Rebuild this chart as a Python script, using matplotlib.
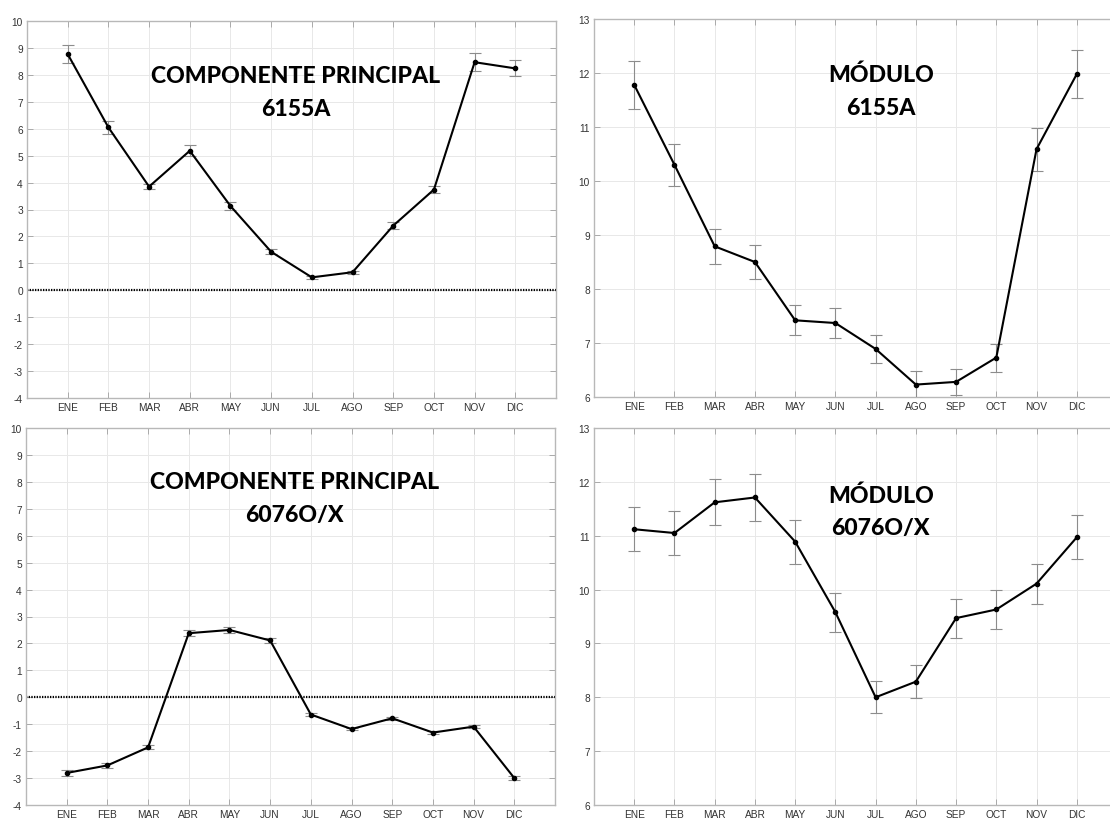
import numpy as np
import matplotlib
matplotlib.use("Agg")
import matplotlib.pyplot as plt

plt.rcParams["axes.unicode_minus"] = False

months = ["ENE", "FEB", "MAR", "ABR", "MAY", "JUN", "JUL", "AGO", "SEP", "OCT", "NOV", "DIC"]

# Componente principal, estación 6155A
cp_6155a = [8.77, 6.05, 3.85, 5.18, 3.13, 1.43, 0.48, 0.67, 2.40, 3.74, 8.47, 8.24]
cp_6155a_err = [0.33, 0.24, 0.10, 0.20, 0.15, 0.10, 0.05, 0.05, 0.12, 0.12, 0.33, 0.30]

# Módulo, estación 6155A
mod_6155a = [11.78, 10.30, 8.79, 8.50, 7.42, 7.37, 6.89, 6.23, 6.28, 6.73, 10.59, 11.98]
mod_6155a_err = [0.44, 0.39, 0.33, 0.32, 0.28, 0.28, 0.26, 0.25, 0.24, 0.26, 0.40, 0.45]

# Componente principal, estación 6076O/X
cp_6076 = [-2.81, -2.53, -1.86, 2.38, 2.50, 2.11, -0.64, -1.18, -0.78, -1.31, -1.09, -3.00]
cp_6076_err = [0.12, 0.10, 0.07, 0.12, 0.10, 0.08, 0.05, 0.05, 0.05, 0.05, 0.05, 0.06]

# Módulo, estación 6076O/X
mod_6076 = [11.12, 11.05, 11.62, 11.71, 10.89, 9.58, 8.00, 8.29, 9.47, 9.63, 10.11, 10.97]
mod_6076_err = [0.41, 0.41, 0.43, 0.43, 0.41, 0.36, 0.30, 0.31, 0.36, 0.36, 0.37, 0.41]

TICK_FONT = "Liberation Sans"
LABEL_FONT = "Lato"

W, H = 1110, 820
fig = plt.figure(figsize=(W / 100, H / 100), dpi=100)


def px_axes(x0, y0, x1, y1):
    return fig.add_axes([x0 / W, 1 - y1 / H, (x1 - x0) / W, (y1 - y0) / H])


def panel(ax, values, errors, ylim, title_lines, title_xy, zero_line):
    x = np.arange(1, len(months) + 1)
    ax.set_xlim(0, 13)
    ax.set_ylim(*ylim)
    ax.set_xticks(x)
    ax.set_xticklabels(months)
    ax.set_yticks(np.arange(ylim[0], ylim[1] + 1, 1))
    ax.grid(True, color="#e8e8e8", linewidth=0.7)
    ax.set_axisbelow(True)
    for s in ax.spines.values():
        s.set_color("#b8b8b8")
        s.set_linewidth(1.0)
    ax.tick_params(direction="in", length=4, width=0.6, color="#a0a0a0",
                   top=True, right=True, labelsize=7.3, labelcolor="#333333")
    ax.tick_params(axis="x", pad=3)
    ax.tick_params(axis="y", pad=3)
    for lab in ax.get_xticklabels() + ax.get_yticklabels():
        lab.set_fontfamily(TICK_FONT)
    if zero_line:
        ax.axhline(0, color="black", linewidth=1.6, linestyle=(0, (0.6, 0.6)), zorder=2)
    ax.errorbar(x, values, yerr=errors, fmt="none", ecolor="#8c8c8c",
                elinewidth=0.8, capsize=4, capthick=0.8, zorder=3)
    ax.plot(x, values, color="black", linewidth=1.5, marker="o", markersize=3, zorder=4)
    tx, ty = title_xy
    for i, line in enumerate(title_lines):
        ax.text(tx, ty[i], line, transform=ax.transData, ha="center", va="center",
                fontsize=16.6, fontweight="black", fontfamily=LABEL_FONT, color="black", zorder=5)


ax1 = px_axes(27, 22, 556, 399)
panel(ax1, cp_6155a, cp_6155a_err, (-4, 10), ["COMPONENTE PRINCIPAL", "6155A"],
      (6.6, (7.97, 6.75)), True)

ax2 = px_axes(594, 20, 1117, 398)
panel(ax2, mod_6155a, mod_6155a_err, (6, 13), ["MÓDULO", "6155A"],
      (7.13, (11.97, 11.36)), False)

ax3 = px_axes(26, 429, 555, 806)
panel(ax3, cp_6076, cp_6076_err, (-4, 10), ["COMPONENTE PRINCIPAL", "6076O/X"],
      (6.6, (8.0, 6.8)), True)

ax4 = px_axes(594, 429, 1117, 806)
panel(ax4, mod_6076, mod_6076_err, (6, 13), ["MÓDULO", "6076O/X"],
      (7.13, (11.76, 11.16)), False)

fig.savefig("out.png", dpi=100, facecolor="white")
